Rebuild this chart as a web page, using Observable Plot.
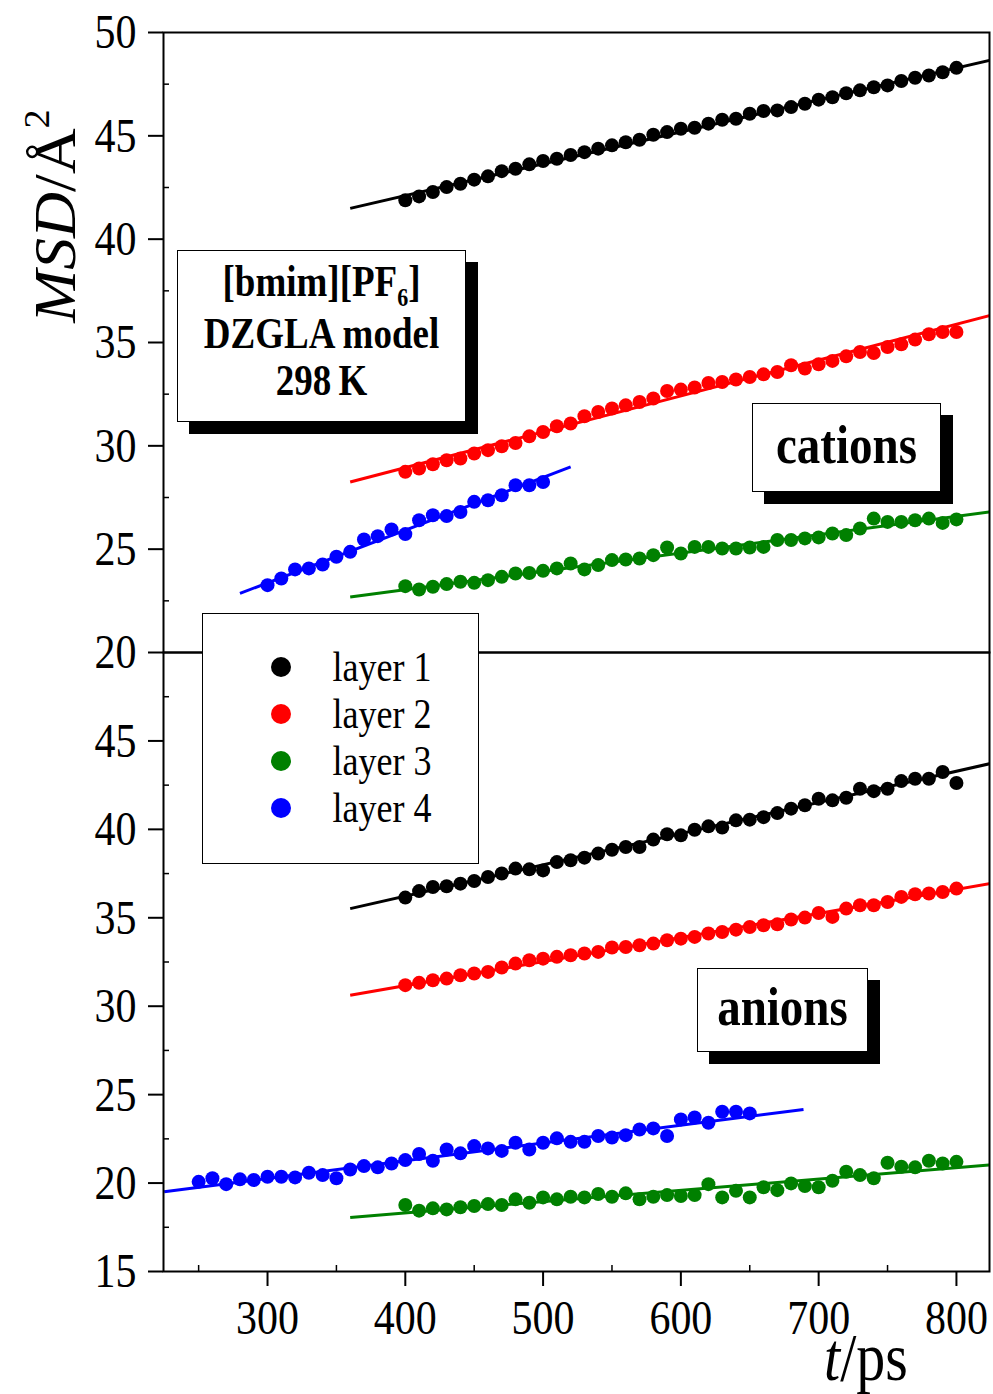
<!DOCTYPE html>
<html><head><meta charset="utf-8">
<script src="https://cdn.jsdelivr.net/npm/d3@7"></script>
<script src="https://cdn.jsdelivr.net/npm/@observablehq/plot@0.6"></script>
<style>
body{margin:0;background:#fff;}
#wrap{position:relative;width:993px;height:1394px;font-family:"Liberation Serif","Times New Roman",serif;overflow:hidden;background:#fff;}
#wrap svg{position:absolute;left:0;}
.box{position:absolute;box-sizing:border-box;background:#fff;border:1.5px solid #000;box-shadow:12px 12px 0 #000;text-align:center;font-weight:bold;color:#000;}
.st{display:inline-block;transform:scaleY(1.18);}
#legend{position:absolute;box-sizing:border-box;left:202px;top:613px;width:277px;height:251px;background:#fff;border:1.5px solid #000;}
.lrow{position:absolute;left:0;height:36px;line-height:36px;font-size:36px;}
.ldot{position:absolute;width:20px;height:20px;border-radius:50%;}
</style></head><body><div id="wrap"></div>
<script>
const layers = ["layer 1","layer 2","layer 3","layer 4"];
const layerColors = ["#000000","#ff0000","#008000","#0000ff"];

const tMain = [400,410,420,430,440,450,460,470,480,490,500,510,520,530,540,550,560,570,580,590,600,610,620,630,640,650,660,670,680,690,700,710,720,730,740,750,760,770,780,790,800];
const tCatL4 = [300,310,320,330,340,350,360,370,380,390,400,410,420,430,440,450,460,470,480,490,500];
const tAnL4 = [250,260,270,280,290,300,310,320,330,340,350,360,370,380,390,400,410,420,430,440,450,460,470,480,490,500,510,520,530,540,550,560,570,580,590,600,610,620,630,640,650];

// cations (upper panel)
const catL1 = [41.88,42.07,42.28,42.52,42.68,42.88,43.04,43.29,43.41,43.62,43.78,43.89,44.07,44.21,44.38,44.54,44.69,44.81,45.05,45.18,45.34,45.39,45.59,45.78,45.83,46.07,46.20,46.23,46.39,46.55,46.75,46.87,47.06,47.20,47.35,47.44,47.65,47.81,47.92,48.08,48.29];
const catL2 = [28.74,28.90,29.11,29.30,29.39,29.63,29.79,29.98,30.14,30.46,30.67,30.95,31.08,31.43,31.64,31.81,31.96,32.12,32.29,32.65,32.72,32.82,33.04,33.09,33.21,33.33,33.46,33.57,33.90,33.74,33.95,34.11,34.33,34.54,34.49,34.78,34.91,35.14,35.40,35.51,35.51];
const catL3 = [23.21,23.05,23.18,23.31,23.42,23.37,23.50,23.66,23.82,23.85,23.95,24.07,24.31,24.02,24.23,24.47,24.50,24.55,24.71,25.08,24.79,25.11,25.11,25.03,25.03,25.08,25.11,25.44,25.44,25.52,25.57,25.76,25.68,26.00,26.48,26.32,26.32,26.40,26.48,26.27,26.44];
const catL4 = [23.26,23.58,24.02,24.07,24.26,24.63,24.87,25.47,25.63,25.95,25.73,26.40,26.64,26.60,26.80,27.29,27.37,27.61,28.09,28.09,28.25];

// anions (lower panel)
const anL1 = [36.14,36.51,36.74,36.78,36.93,37.08,37.31,37.50,37.78,37.74,37.68,38.15,38.25,38.40,38.63,38.85,39.00,39.00,39.42,39.72,39.66,39.98,40.17,40.10,40.51,40.55,40.69,40.92,41.17,41.36,41.73,41.64,41.79,42.30,42.16,42.30,42.73,42.86,42.86,43.24,42.62];
const anL2 = [31.19,31.32,31.47,31.56,31.75,31.85,31.94,32.19,32.41,32.60,32.69,32.79,32.88,32.98,33.07,33.32,33.35,33.45,33.54,33.73,33.82,33.92,34.11,34.20,34.33,34.48,34.58,34.63,34.90,35.01,35.27,35.05,35.52,35.71,35.71,35.89,36.18,36.33,36.37,36.46,36.65];
const anL3 = [18.76,18.44,18.57,18.51,18.63,18.70,18.81,18.76,19.08,18.89,19.19,19.08,19.23,19.19,19.38,19.23,19.42,19.08,19.23,19.32,19.27,19.32,19.94,19.19,19.56,19.19,19.76,19.60,19.98,19.83,19.76,20.13,20.64,20.45,20.27,21.15,20.92,20.89,21.26,21.11,21.20];
const anL4 = [20.07,20.27,19.94,20.21,20.17,20.36,20.36,20.32,20.58,20.45,20.27,20.77,20.96,20.89,21.11,21.30,21.64,21.26,21.90,21.68,22.09,21.96,21.82,22.28,21.90,22.28,22.53,22.33,22.33,22.66,22.58,22.71,23.03,23.09,22.66,23.60,23.71,23.41,24.03,24.03,23.94];

// linear fit lines (start/end t and MSD), per layer
const catFitT0 = [360,360,360,280];
const catFitT1 = [824,824,824,520];
const catFitY0 = [41.49,28.25,22.69,22.86];
const catFitY1 = [48.65,36.30,26.80,28.98];
const anFitT0 = [360,360,360,225];
const anFitT1 = [824,824,824,689];
const anFitY0 = [35.52,30.62,18.06,19.51];
const anFitY1 = [43.71,36.93,21.02,24.16];

// axes
const xDomain = [224.5, 824];
const xTicks = [300,400,500,600,700,800];
const xMinor = [250,350,450,550,650,750];
const yTicksTop = [20,25,30,35,40,45,50];
const yMinorTop = [22.5,27.5,32.5,37.5,42.5,47.5];
const yTicksBottom = [15,20,25,30,35,40,45];
const yMinorBottom = [17.5,22.5,27.5,32.5,37.5,42.5,47.5];

function rows(ts, vs, layer){ return ts.map((t,i)=>({t, v: vs[i], layer})); }
function fits(t0,t1,y0,y1){ return layers.map((l,i)=>({layer:l, t0:t0[i], t1:t1[i], y0:y0[i], y1:y1[i]})); }

const catData = [...rows(tMain,catL1,layers[0]),...rows(tMain,catL2,layers[1]),...rows(tMain,catL3,layers[2]),...rows(tCatL4,catL4,layers[3])];
const anData = [...rows(tMain,anL1,layers[0]),...rows(tMain,anL2,layers[1]),...rows(tMain,anL3,layers[2]),...rows(tAnL4,anL4,layers[3])];
const catFits = fits(catFitT0,catFitT1,catFitY0,catFitY1);
const anFits = fits(anFitT0,anFitT1,anFitY0,anFitY1);

const FONT = "Liberation Serif, Times New Roman, serif";
const common = {
  width: 993, marginLeft: 163, marginRight: 4,
  color: {domain: layers, range: layerColors},
  style: {fontFamily: FONT, background: "transparent", overflow: "visible", color: "#000"}
};

function panelMarks(data, fitsData, yTicks, yMinor, withX){
  const m = [
    Plot.link(fitsData, {x1:"t0", y1:"y0", x2:"t1", y2:"y1", stroke:"layer", strokeWidth:3, clip:true}),
    Plot.dot(data, {x:"t", y:"v", fill:"layer", r:7, stroke:null}),
    Plot.tickY(yMinor, {y: d=>d, insetRight: 820, strokeWidth: 1.5}),
    Plot.axisY({ticks: yTicks, tickSize: 15, tickPadding: 12, label: null, fontSize: 42, strokeWidth: 2}),
    Plot.frame({strokeWidth: 2})
  ];
  if (withX) {
    m.push(Plot.tickX(xMinor, {x: d=>d, insetTop: 613, strokeWidth: 1.5}));
    m.push(Plot.axisX({ticks: xTicks, tickSize: 15, tickPadding: 12, label: null, fontSize: 42, strokeWidth: 2}));
  }
  return m;
}

const topPlot = Plot.plot({...common, height: 652, marginTop: 32, marginBottom: 0,
  x: {domain: xDomain, axis: null},
  y: {domain: [20, 50]}, marks: panelMarks(catData, catFits, yTicksTop, yMinorTop, false)});
const botPlot = Plot.plot({...common, height: 742, marginTop: 0, marginBottom: 123,
  x: {domain: xDomain},
  y: {domain: [15, 50]}, marks: panelMarks(anData, anFits, yTicksBottom, yMinorBottom, true)});

const wrap = document.getElementById("wrap");
topPlot.style.top = "0px";
botPlot.style.top = "652px";
wrap.appendChild(topPlot);
wrap.appendChild(botPlot);

// stretch tick labels vertically (original figure aspect)
for (const svg of [topPlot, botPlot]) {
  svg.querySelectorAll('g[aria-label$="tick label"] text').forEach(t => {
    const tr = t.getAttribute("transform") || "";
    t.setAttribute("transform", tr + " scale(1,1.18)");
  });
}

// y axis title
const ty = d3.select(topPlot).append("text")
  .attr("transform", "translate(75,216) rotate(-90) scale(1.06,1)")
  .attr("text-anchor", "middle").attr("font-size", 60).attr("font-family", FONT).attr("fill", "#000");
ty.append("tspan").attr("font-style", "italic").text("MSD");
ty.append("tspan").text("/Å");
ty.append("tspan").attr("font-size", 36).attr("dy", -26).text("2");

// x axis title
const tx = d3.select(botPlot).append("text")
  .attr("transform", "translate(866,728) scale(1,1.15)")
  .attr("text-anchor", "middle").attr("font-size", 58).attr("font-family", FONT).attr("fill", "#000");
tx.append("tspan").attr("font-style", "italic").text("t");
tx.append("tspan").text("/ps");

// annotation boxes
function box(left, top, w, h, html, extra){
  const d = document.createElement("div");
  d.className = "box";
  d.style.cssText = `left:${left}px;top:${top}px;width:${w}px;height:${h}px;` + (extra||"");
  d.innerHTML = html;
  wrap.appendChild(d);
}
box(177, 250, 289, 172,
  `<div style="padding-top:7px;font-size:37px;line-height:47px;">
     <div><span class="st">[bmim][PF<span style="font-size:22px;position:relative;top:9px;">6</span>]</span></div>
     <div><span class="st">DZGLA model</span></div>
     <div><span class="st">298&#8201;K</span></div>
   </div>`);
box(752, 403, 189, 89, `<div style="font-size:47px;line-height:80px;"><span class="st">cations</span></div>`);
box(697, 968, 171, 84, `<div style="font-size:47px;line-height:74px;"><span class="st">anions</span></div>`);

// legend
const leg = document.createElement("div");
leg.id = "legend";
wrap.appendChild(leg);
const legY = [667, 714, 761, 808];
layers.forEach((l, i) => {
  const dot = document.createElement("div");
  dot.className = "ldot";
  dot.style.cssText = `left:${281-202-1.5-10}px;top:${legY[i]-613-1.5-10}px;background:${layerColors[i]};`;
  leg.appendChild(dot);
  const r = document.createElement("div");
  r.className = "lrow";
  r.style.cssText = `left:${333-202-1.5}px;top:${legY[i]-613-1.5-18}px;`;
  r.innerHTML = `<span class="st">${l}</span>`;
  leg.appendChild(r);
});
</script></body></html>
